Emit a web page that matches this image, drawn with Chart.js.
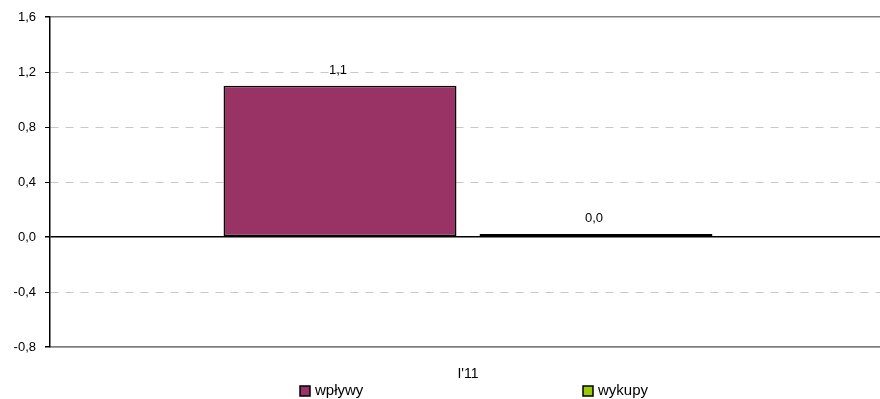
<!DOCTYPE html>
<html>
<head>
<meta charset="utf-8">
<script src="https://cdn.jsdelivr.net/npm/chart.js@4"></script>
<style>
  html, body { margin: 0; padding: 0; background: #fff; overflow: hidden; }
  #wrap { width: 886px; height: 399px; }
</style>
</head>
<body>
<div id="wrap"><canvas id="chart"></canvas></div>
<script>
// ---- data ----
const categories = ["I'11"];
const seriesNames = ["wpływy", "wykupy"];
const inflows = [1.1];
const redemptions = [0.01];
const yTicks = [-0.8, -0.4, 0.0, 0.4, 0.8, 1.2, 1.6];

const colors = ["#993366", "#99cc00"];
const FONT = "'Liberation Sans', Arial, sans-serif";
const fmt = v => v.toFixed(1).replace(".", ",");

// value labels above the bars
const barLabels = {
  id: "barLabels",
  afterDatasetsDraw(chart) {
    const ctx = chart.ctx;
    ctx.save();
    ctx.font = "13px " + FONT;
    ctx.fillStyle = "#000";
    ctx.textAlign = "center";
    ctx.textBaseline = "bottom";
    chart.data.datasets.forEach((ds, i) => {
      chart.getDatasetMeta(i).data.forEach((bar, j) => {
        ctx.fillText(fmt(ds.data[j]), bar.x - 2, bar.y - 9);
      });
    });
    ctx.restore();
  }
};

// legend in the bottom strip, items spread apart like the original
const wideLegend = {
  id: "wideLegend",
  afterDraw(chart) {
    const ctx = chart.ctx;
    const area = chart.chartArea;
    const mid = (area.left + area.right) / 2;
    const starts = [mid - 168, mid + 115];
    ctx.save();
    ctx.font = "15px " + FONT;
    ctx.textBaseline = "middle";
    ctx.textAlign = "left";
    chart.data.datasets.forEach((ds, i) => {
      const x = starts[i];
      const y = 391;
      ctx.fillStyle = ds.backgroundColor;
      ctx.fillRect(x, y - 5, 10, 10);
      ctx.strokeStyle = "#000";
      ctx.lineWidth = 1.5;
      ctx.strokeRect(x, y - 5, 10, 10);
      ctx.fillStyle = "#000";
      ctx.fillText(ds.label, x + 15, y);
    });
    ctx.restore();
  }
};

new Chart(document.getElementById("chart"), {
  type: "bar",
  data: {
    labels: categories,
    datasets: [
      {
        label: seriesNames[0],
        data: inflows,
        backgroundColor: colors[0],
        borderColor: "#000",
        borderWidth: 1.5,
        borderSkipped: false
      },
      {
        label: seriesNames[1],
        data: redemptions,
        backgroundColor: colors[1],
        borderColor: "#000",
        borderWidth: 1.5,
        borderSkipped: false,
        minBarLength: 3
      }
    ]
  },
  options: {
    responsive: true,
    maintainAspectRatio: false,
    animation: false,
    categoryPercentage: 0.6124,
    barPercentage: 0.91,
    layout: { padding: { top: 17, right: 0, left: 0, bottom: 0 } },
    plugins: {
      legend: { display: false },
      tooltip: { enabled: false }
    },
    scales: {
      x: {
        grid: { display: false },
        border: { display: true, color: "#808080", width: 1.5 },
        ticks: {
          color: "#000",
          padding: 11,
          font: { family: FONT, size: 14 }
        },
        afterFit: s => { s.height = 52; }
      },
      y: {
        min: -0.8,
        max: 1.6,
        afterBuildTicks: s => { s.ticks = yTicks.map(v => ({ value: v })); },
        afterFit: s => { s.width = 50; },
        grid: {
          drawTicks: true,
          tickLength: 5,
          tickColor: "#000",
          lineWidth: c => {
            const v = c.tick ? c.tick.value : null;
            return (v === 0 || v === -0.8 || v === 1.6) ? 1.5 : 1;
          },
          color: c => {
            const v = c.tick ? c.tick.value : null;
            if (v === 0) return "#000";
            if (v === -0.8 || v === 1.6) return "#808080";
            return "#c8c8c8";
          }
        },
        border: {
          display: true,
          color: "#000",
          width: 1.5,
          dash: c => {
            const v = c.tick ? c.tick.value : null;
            return (v === 0 || v === -0.8 || v === 1.6) ? [] : [8, 7];
          }
        },
        ticks: {
          color: "#000",
          padding: 9,
          font: { family: FONT, size: 13 },
          callback: v => fmt(v)
        }
      }
    }
  },
  plugins: [barLabels, wideLegend]
});
</script>
</body>
</html>
